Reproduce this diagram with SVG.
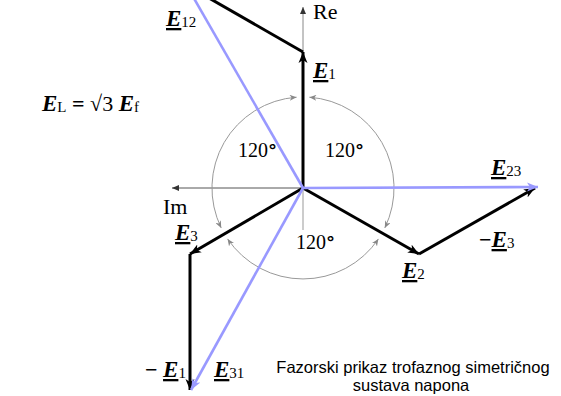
<svg xmlns="http://www.w3.org/2000/svg" width="561" height="396" viewBox="0 0 561 396">
<style>
.ph{stroke:#000;stroke-width:3;fill:none}
.bl{stroke:#9999ff;stroke-width:2.6;fill:none}
.arc{stroke:#999;stroke-width:1;fill:none}
.t{font-family:"Liberation Serif","Times New Roman",serif;font-size:22px;fill:#000}
.n{font-size:20px}
.E{font-weight:bold;font-style:italic;text-decoration:underline;font-size:23px}
.Ep{font-weight:bold;font-style:italic;font-size:23px}
.s{font-size:15px}
.deg{font-weight:bold}
.dg{font-family:"DejaVu Sans",sans-serif;font-weight:bold;font-size:18px}
.cap{font-family:"Liberation Sans",Arial,sans-serif;font-size:16.5px;fill:#000}
</style>
<defs>
<marker id="ak" markerUnits="userSpaceOnUse" markerWidth="12" markerHeight="10" refX="11" refY="5" orient="auto"><path d="M0,0.5 L11,5 L0,9.5 L3,5 z" fill="#000"/></marker>
<marker id="ab" markerUnits="userSpaceOnUse" markerWidth="12" markerHeight="10" refX="11" refY="5" orient="auto"><path d="M0,0.5 L11,5 L0,9.5 L3,5 z" fill="#9999ff"/></marker>
<marker id="ag" markerUnits="userSpaceOnUse" markerWidth="8" markerHeight="6" refX="7" refY="3" orient="auto-start-reverse"><path d="M0,0 L7,3 L0,6 L2,3 z" fill="#888"/></marker>
<marker id="ax" markerUnits="userSpaceOnUse" markerWidth="8" markerHeight="6" refX="7" refY="3" orient="auto"><path d="M0,0 L7,3 L0,6 z" fill="#333"/></marker>
</defs>
<g id="axes">
<line x1="303" y1="188" x2="303" y2="7" stroke="#888" stroke-width="1" marker-end="url(#ax)"/>
<line x1="303" y1="188" x2="172" y2="188" stroke="#555" stroke-width="1" marker-end="url(#ax)"/>
<line x1="303" y1="188" x2="303" y2="230" stroke="#999" stroke-width="1"/>
<text class="t" x="313" y="19">Re</text>
<text class="t" x="163" y="214">Im</text>
</g>
<g id="angles">
<path class="arc" d="M296.6,97.2 A91,91 0 0 0 221.2,227.9" marker-start="url(#ag)" marker-end="url(#ag)"/>
<path class="arc" d="M227.6,238.9 A91,91 0 0 0 378.4,238.9" marker-start="url(#ag)" marker-end="url(#ag)"/>
<path class="arc" d="M384.8,227.9 A91,91 0 0 0 309.4,97.2" marker-start="url(#ag)" marker-end="url(#ag)"/>
<text class="t n" x="238" y="157">120<tspan class="dg">°</tspan></text>
<text class="t n" x="325" y="157">120<tspan class="dg">°</tspan></text>
<text class="t n" x="296" y="249">120<tspan class="dg">°</tspan></text>
</g>
<g id="connectors">
<line class="ph" x1="303" y1="188" x2="303" y2="52" marker-end="url(#ak)"/>
<line class="ph" x1="303" y1="188" x2="419" y2="254" marker-end="url(#ak)"/>
<line class="ph" x1="303" y1="188" x2="190" y2="254" marker-end="url(#ak)"/>
<line class="ph" x1="419" y1="254" x2="535" y2="188" marker-end="url(#ak)"/>
<line class="ph" x1="190" y1="254" x2="190" y2="390" marker-end="url(#ak)"/>
<line class="ph" x1="303" y1="52" x2="188" y2="-14"/>
<line class="bl" x1="303" y1="188" x2="188" y2="-12"/>
<line class="bl" x1="303" y1="188" x2="538" y2="187" marker-end="url(#ab)"/>
<line class="bl" x1="303" y1="188" x2="191" y2="390" marker-end="url(#ab)"/>
</g>
<g id="E12"><text class="t" x="166" y="26"><tspan class="E">E</tspan><tspan class="s" dy="1">12</tspan></text></g>
<g id="E1"><text class="t" x="313" y="78"><tspan class="E">E</tspan><tspan class="s" dy="1">1</tspan></text></g>
<g id="E2"><text class="t" x="402" y="278"><tspan class="E">E</tspan><tspan class="s" dy="1">2</tspan></text></g>
<g id="E3"><text class="t" x="175" y="240"><tspan class="E">E</tspan><tspan class="s" dy="1">3</tspan></text></g>
<g id="E23"><text class="t" x="491" y="175"><tspan class="E">E</tspan><tspan class="s" dy="1">23</tspan></text></g>
<g id="mE3"><text class="t" x="479" y="247"><tspan class="deg">−</tspan><tspan class="E">E</tspan><tspan class="s" dy="1">3</tspan></text></g>
<g id="mE1"><text class="t" x="145" y="377"><tspan class="deg">−</tspan> <tspan class="E">E</tspan><tspan class="s" dy="1">1</tspan></text></g>
<g id="E31"><text class="t" x="214" y="377"><tspan class="E">E</tspan><tspan class="s" dy="1">31</tspan></text></g>
<g id="formula"><text class="t" x="42" y="111"><tspan class="Ep">E</tspan><tspan class="s" dy="1">L</tspan><tspan dy="-1" class="deg"> = </tspan>√3 <tspan class="Ep">E</tspan><tspan class="s" dy="1">f</tspan></text></g>
<g id="caption">
<text class="cap" x="413" y="373" text-anchor="middle">Fazorski prikaz trofaznog simetričnog</text>
<text class="cap" x="411" y="391" text-anchor="middle">sustava napona</text>
</g>
</svg>
